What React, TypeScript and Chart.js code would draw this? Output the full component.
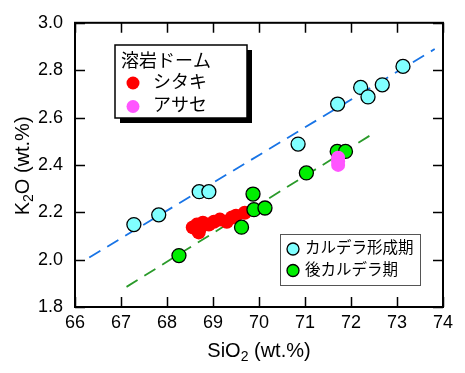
import React, { useEffect, useRef } from "react";
import { Chart, registerables } from "chart.js";

Chart.register(...registerables);

// ---- data ----
const xTicks = [66, 67, 68, 69, 70, 71, 72, 73, 74];
const yTicks = [1.8, 2.0, 2.2, 2.4, 2.6, 2.8, 3.0];

const calderaX = [67.28, 67.82, 68.70, 68.91, 70.85, 71.71, 72.21, 72.37, 72.68, 73.13];
const calderaY = [2.148, 2.189, 2.287, 2.287, 2.488, 2.657, 2.727, 2.687, 2.738, 2.816];

const postX = [68.26, 69.62, 69.87, 69.89, 70.13, 71.03, 71.70, 71.88];
const postY = [2.017, 2.137, 2.277, 2.211, 2.218, 2.366, 2.457, 2.457];

const shitakiX = [68.56, 68.65, 68.69, 68.73, 68.78, 68.91, 69.02, 69.15, 69.30, 69.41, 69.50, 69.69];
const shitakiY = [2.136, 2.148, 2.115, 2.136, 2.156, 2.148, 2.160, 2.169, 2.160, 2.178, 2.185, 2.198];

const asaseX = [71.72, 71.72, 71.72];
const asaseY = [2.43, 2.415, 2.40];

const blueLineX = [66.31, 73.82];
const blueLineY = [2.009, 2.889];
const greenLineX = [67.12, 72.52];
const greenLineY = [1.885, 2.537];

const legendTitle = "溶岩ドーム";
const domeLabels = ["シタキ", "アサセ"];
const periodLabels = ["カルデラ形成期", "後カルデラ期"];

const CYAN = "#80FFFF";
const GREEN = "#00EE00";
const RED = "#FF0000";
const MAGENTA = "#FF55FF";
const BLUE_LINE = "#1874E6";
const GREEN_LINE = "#2A9A2A";

const LAT = "'Liberation Sans', Arial, sans-serif";
const JP = "'Liberation Sans', 'Noto Sans CJK JP', sans-serif";

const pts = (xs: number[], ys: number[]) => xs.map((x, i) => ({ x, y: ys[i] }));

const framePlugin = {
  id: "frameTicks",
  afterDraw(chart: any) {
    const { ctx, chartArea: a, scales } = chart;
    const xs = scales.x;
    const ys = scales.y;
    ctx.save();
    // inward ticks
    ctx.strokeStyle = "#000";
    ctx.lineWidth = 1.5;
    const TL = 10;
    ctx.beginPath();
    xTicks.forEach((v) => {
      const px = Math.round(xs.getPixelForValue(v)) + 0.5;
      ctx.moveTo(px, a.bottom);
      ctx.lineTo(px, a.bottom - TL);
      ctx.moveTo(px, a.top);
      ctx.lineTo(px, a.top + TL);
    });
    yTicks.forEach((v) => {
      const py = Math.round(ys.getPixelForValue(v)) + 0.5;
      ctx.moveTo(a.left, py);
      ctx.lineTo(a.left + TL, py);
      ctx.moveTo(a.right, py);
      ctx.lineTo(a.right - TL, py);
    });
    ctx.stroke();
    // frame
    ctx.lineWidth = 2;
    ctx.strokeRect(a.left, a.top, a.right - a.left, a.bottom - a.top);

    // axis titles
    ctx.fillStyle = "#000";
    ctx.textBaseline = "alphabetic";
    ctx.textAlign = "left";
    const big = `20px ${LAT}`;
    const sub = `14px ${LAT}`;
    const drawTitle = (pre: string, post: string, cx: number, base: number) => {
      ctx.font = big;
      const w1 = ctx.measureText(pre).width;
      const w3 = ctx.measureText(post).width;
      ctx.font = sub;
      const w2 = ctx.measureText("2").width;
      let x = cx - (w1 + w2 + w3) / 2;
      ctx.font = big;
      ctx.fillText(pre, x, base);
      x += w1;
      ctx.font = sub;
      ctx.fillText("2", x, base + 4);
      x += w2;
      ctx.font = big;
      ctx.fillText(post, x, base);
    };
    drawTitle("SiO", " (wt.%)", (a.left + a.right) / 2, 357);
    ctx.save();
    ctx.translate(29, (a.top + a.bottom) / 2 + 1);
    ctx.rotate(-Math.PI / 2);
    drawTitle("K", "O (wt.%)", 0, 0);
    ctx.restore();

    // legend 1 (lava domes)
    ctx.fillStyle = "#000";
    ctx.fillRect(120, 50, 132, 73);
    ctx.fillStyle = "#fff";
    ctx.fillRect(115, 45, 132, 73);
    ctx.lineWidth = 1.5;
    ctx.strokeStyle = "#000";
    ctx.strokeRect(115, 45, 132, 73);
    ctx.fillStyle = "#000";
    ctx.font = `18px ${JP}`;
    ctx.textBaseline = "middle";
    ctx.fillText(legendTitle, 121, 62);
    const domeColors = [RED, MAGENTA];
    domeLabels.forEach((t, i) => {
      const cy = 83 + i * 23.5;
      ctx.beginPath();
      ctx.arc(133, cy, 6.5, 0, Math.PI * 2);
      ctx.fillStyle = domeColors[i];
      ctx.fill();
      ctx.fillStyle = "#000";
      ctx.fillText(t, 153, cy);
    });

    // legend 2 (periods)
    ctx.fillStyle = "#fff";
    ctx.fillRect(280, 234, 140, 51);
    ctx.strokeStyle = "#555";
    ctx.lineWidth = 1;
    ctx.strokeRect(280.5, 234.5, 140, 51);
    ctx.font = `15.5px ${JP}`;
    const perColors = [CYAN, GREEN];
    periodLabels.forEach((t, i) => {
      const cy = 249 + i * 21.5;
      ctx.beginPath();
      ctx.arc(293, cy, 6, 0, Math.PI * 2);
      ctx.fillStyle = perColors[i];
      ctx.fill();
      ctx.strokeStyle = "#000";
      ctx.lineWidth = 1.3;
      ctx.stroke();
      ctx.fillStyle = "#000";
      ctx.fillText(t, 305, cy);
    });
    ctx.restore();
  },
};

export default function App() {
  const ref = useRef<HTMLCanvasElement>(null);
  useEffect(() => {
    const canvas = ref.current!;
    const chart = new Chart(canvas, {
      type: "scatter",
      data: {
        datasets: [
          {
            label: "アサセ",
            data: pts(asaseX, asaseY),
            backgroundColor: MAGENTA,
            borderWidth: 0,
            pointRadius: 7,
          },
          {
            label: "後カルデラ期",
            data: pts(postX, postY),
            backgroundColor: GREEN,
            borderColor: "#000",
            borderWidth: 1.3,
            pointRadius: 7,
          },
          {
            label: "シタキ",
            data: pts(shitakiX, shitakiY),
            backgroundColor: RED,
            borderWidth: 0,
            pointRadius: 7,
          },
          {
            label: "カルデラ形成期",
            data: pts(calderaX, calderaY),
            backgroundColor: CYAN,
            borderColor: "#000",
            borderWidth: 1.3,
            pointRadius: 7,
          },
          {
            label: "trend1",
            data: pts(blueLineX, blueLineY),
            showLine: true,
            borderColor: BLUE_LINE,
            borderWidth: 1.8,
            borderDash: [13, 8],
            pointRadius: 0,
          },
          {
            label: "trend2",
            data: pts(greenLineX, greenLineY),
            showLine: true,
            borderColor: GREEN_LINE,
            borderWidth: 1.8,
            borderDash: [13, 8],
            pointRadius: 0,
          },
        ],
      },
      options: {
        animation: false,
        responsive: false,
        maintainAspectRatio: false,
        layout: { padding: { top: 15, right: 22, left: 0, bottom: 0 } },
        plugins: { legend: { display: false }, tooltip: { enabled: false } },
        scales: {
          x: {
            type: "linear",
            min: 66,
            max: 74,
            afterBuildTicks: (s: any) => {
              s.ticks = xTicks.map((v) => ({ value: v }));
            },
            afterFit: (s: any) => {
              s.height = 66;
            },
            grid: { display: false, drawTicks: false },
            border: { display: false },
            ticks: {
              color: "#000",
              padding: 5,
              font: { family: LAT, size: 18 },
              callback: (v: any) => String(v),
            },
          },
          y: {
            type: "linear",
            min: 1.8,
            max: 3.0,
            afterBuildTicks: (s: any) => {
              s.ticks = yTicks.map((v) => ({ value: v }));
            },
            afterFit: (s: any) => {
              s.width = 75;
            },
            grid: { display: false, drawTicks: false },
            border: { display: false },
            ticks: {
              color: "#000",
              padding: 12,
              font: { family: LAT, size: 18 },
              callback: (v: any) => Number(v).toFixed(1),
            },
          },
        },
      },
      plugins: [framePlugin],
    });
    return () => chart.destroy();
  }, []);
  return (
    <div style={{ position: "fixed", left: 0, top: 0, width: 465, height: 373, background: "#fff" }}>
      <canvas ref={ref} width={465} height={373} style={{ width: 465, height: 373, display: "block" }} />
    </div>
  );
}
